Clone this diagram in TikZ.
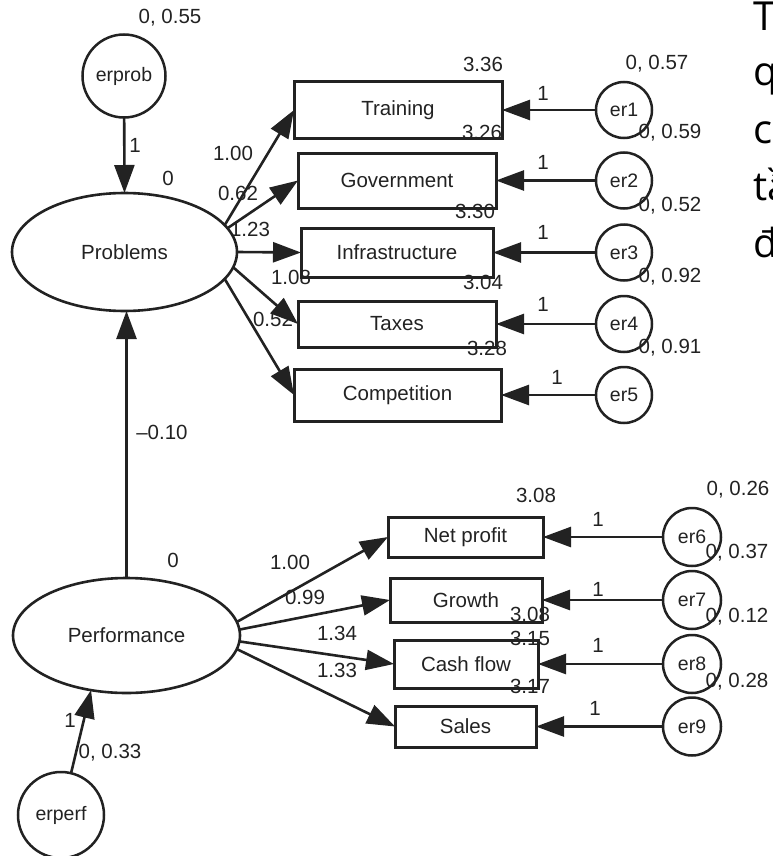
\documentclass[tikz,border=0pt]{standalone}
\usepackage{fontspec}
\setmainfont{Liberation Sans}
\newfontfamily\slidefont{Open Sans}
\usetikzlibrary{arrows.meta,shapes.geometric,calc}
\definecolor{ink}{HTML}{222222}
\begin{document}
\begin{tikzpicture}[x=1pt,y=-1pt,
  font=\fontsize{20.5}{24}\selectfont, text=ink,
  box/.style={draw=ink, line width=3pt, inner sep=0pt, outer sep=0pt},
  lat/.style={ellipse, draw=ink, line width=2.6pt, inner sep=0pt, outer sep=0pt},
  err/.style={circle, draw=ink, line width=2.5pt, inner sep=0pt, outer sep=0pt, font=\fontsize{19.5}{22}\selectfont},
  arr/.style={draw=ink, line width=2.6pt, -{Triangle[length=28pt,width=20pt]}},
  lbl/.style={inner sep=0pt, text=ink},
  slide/.style={inner sep=0pt, anchor=base west, text=black, font=\slidefont\fontsize{40}{48}\selectfont}]
\useasboundingbox (0,0) rectangle (772,856);

% ---- partial slide text on the right (cut at the edge, as in the reference)
\begin{scope}
\clip (0,0) rectangle (772,856);
\node[slide] (s1) at (753,31) {T};
\node[slide] (s2) at (753,86) {q};
\node[slide] (s3) at (753,143) {c};
\node[slide] (s4) at (753,200) {tầ};
\node[slide] (s5) at (753,257) {đ};
\end{scope}

% ---- latent variables
\node[lat, minimum width=225pt, minimum height=118pt] (Prob) at (124.5,252) {Problems};
\node[lat, minimum width=227pt, minimum height=115pt] (Perf) at (126.5,635.5) {Performance};
\node[err, minimum size=83pt] (erprob) at (124,76) {erprob};
\node[err, minimum size=86pt] (erperf) at (61,815) {erperf};

% ---- indicator boxes (Problems)
\node[box, minimum width=208pt, minimum height=56pt] (Tr) at (398,110) {Training};
\node[box, minimum width=198pt, minimum height=55pt] (Go) at (397,180.5) {Government};
\node[box, minimum width=192pt, minimum height=49pt] (In) at (397,252.5) {Infrastructure};
\node[box, minimum width=198pt, minimum height=46pt] (Ta) at (397,324) {Taxes};
\node[box, minimum width=207pt, minimum height=52pt] (Co) at (397.5,395) {Competition};

% ---- indicator boxes (Performance)
\node[box, minimum width=155pt, minimum height=40pt] (Np) at (465.5,537) {Net profit};
\node[box, minimum width=152pt, minimum height=44pt] (Gr) at (466,600) {Growth};
\node[box, minimum width=144pt, minimum height=48pt] (Cf) at (466,664) {Cash flow};
\node[box, minimum width=141pt, minimum height=41pt] (Sa) at (465.5,726.5) {Sales};

% ---- error terms
\node[err, minimum size=56pt] (e1) at (624,110) {er1};
\node[err, minimum size=56pt] (e2) at (624,180.5) {er2};
\node[err, minimum size=56pt] (e3) at (624,252.5) {er3};
\node[err, minimum size=56pt] (e4) at (624,324) {er4};
\node[err, minimum size=56pt] (e5) at (624,395) {er5};
\node[err, minimum size=58pt] (e6) at (692,537) {er6};
\node[err, minimum size=58pt] (e7) at (692,600) {er7};
\node[err, minimum size=58pt] (e8) at (692,664) {er8};
\node[err, minimum size=58pt] (e9) at (692,726.5) {er9};

% ---- connectors
\draw[arr] (erprob) -- (Prob.north);
\draw[arr] (Perf.north) -- (Prob.south -| Perf.north);
\draw[arr] (erperf) -- (Perf.237.5);

\draw[arr] (Prob.15) -- (Tr.west);
\draw[arr] (Prob.13) -- (Go.west);
\draw[arr] (Prob.0) -- (In.west);
\draw[arr] (Prob.-8.4) -- (Ta.west);
\draw[arr] (Prob.-15.6) -- (Co.west);

\draw[arr] (Perf.7) -- (Np.west);
\draw[arr] (Perf.3) -- (Gr.west);
\draw[arr] (Perf.-3.3) -- (Cf.west);
\draw[arr] (Perf.-7.5) -- (Sa.west);

\draw[arr] (e1) -- (Tr.east);
\draw[arr] (e2) -- (Go.east);
\draw[arr] (e3) -- (In.east);
\draw[arr] (e4) -- (Ta.east);
\draw[arr] (e5) -- (Co.east);
\draw[arr] (e6) -- (Np.east);
\draw[arr] (e7) -- (Gr.east);
\draw[arr] (e8) -- (Cf.east);
\draw[arr] (e9) -- (Sa.east);

% ---- labels: Problems part
\node[lbl] (l55) at (170,18) {0, 0.55};
\node[lbl] (lp1) at (135,145) {1};
\node[lbl] (lp0) at (168,178) {0};
\node[lbl] (lw1) at (233,153) {1.00};
\node[lbl] (lw2) at (238,193) {0.62};
\node[lbl] (lw3) at (250,229) {1.23};
\node[lbl] (lw4) at (291,277) {1.08};
\node[lbl] (lw5) at (273,319) {0.52};
\node[lbl] (li1) at (483,64) {3.36};
\node[lbl] (li2) at (482,132) {3.26};
\node[lbl] (li3) at (475,211) {3.30};
\node[lbl] (li4) at (483,282) {3.04};
\node[lbl] (li5) at (487,348) {3.28};
\node[lbl] (lv1) at (657,64) {0, 0.57};
\node[lbl] (lv2) at (670,133) {0, 0.59};
\node[lbl] (lv3) at (670,206) {0, 0.52};
\node[lbl] (lv4) at (670,277) {0, 0.92};
\node[lbl] (lv5) at (670,348) {0, 0.91};
\node[lbl] (lo1) at (543,93) {1};
\node[lbl] (lo2) at (543,162) {1};
\node[lbl] (lo3) at (543,232) {1};
\node[lbl] (lo4) at (543,304) {1};
\node[lbl] (lo5) at (557,377) {1};

% ---- labels: structural path and Performance part
\node[lbl] (lreg) at (162,432) {\textendash0.10};
\node[lbl] (lf0) at (173,560) {0};
\node[lbl] (lf1) at (70,720) {1};
\node[lbl] (l33) at (110,753) {0, 0.33};
\node[lbl] (lq1) at (290,562) {1.00};
\node[lbl] (lq2) at (305,597) {0.99};
\node[lbl] (lq3) at (337,633) {1.34};
\node[lbl] (lq4) at (337,670) {1.33};
\node[lbl] (lj1) at (536,495) {3.08};
\node[lbl] (lj2) at (530,614) {3.08};
\node[lbl] (lj3) at (530,638) {3.15};
\node[lbl] (lj4) at (530,686) {3.17};
\node[lbl] (lu1) at (738,490) {0, 0.26};
\node[lbl] (lu2) at (737,553) {0, 0.37};
\node[lbl] (lu3) at (737,617) {0, 0.12};
\node[lbl] (lu4) at (737,682) {0, 0.28};
\node[lbl] (lk1) at (598,519) {1};
\node[lbl] (lk2) at (598,589) {1};
\node[lbl] (lk3) at (598,645) {1};
\node[lbl] (lk4) at (595,708) {1};
\end{tikzpicture}
\end{document}
